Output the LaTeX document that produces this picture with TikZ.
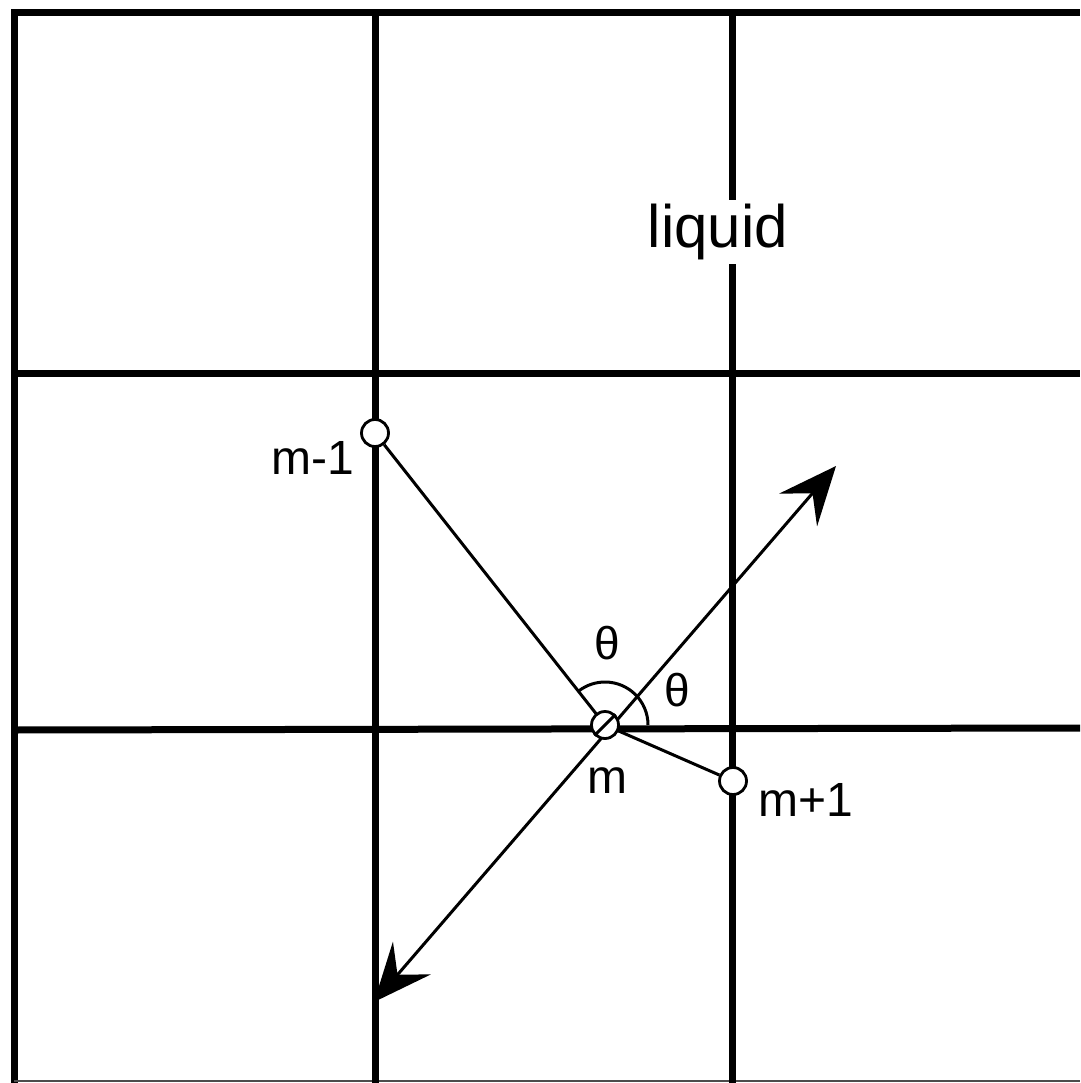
\documentclass[tikz,border=0pt]{standalone}
\usepackage{fontspec}
\setmainfont{Liberation Sans}
\usetikzlibrary{arrows.meta}
\begin{document}
\begin{tikzpicture}[x=1pt,y=-1pt,
  grid/.style={line width=7pt},
  thin/.style={line width=3pt},
  site/.style={circle,draw,fill=white,line width=2.8pt,minimum size=27pt,inner sep=0pt},
  lbl/.style={font=\fontsize{48}{48}\selectfont,inner sep=0pt},
  ang/.style={font=\fontsize{46}{46}\selectfont,inner sep=0pt},
  tip/.style={{Stealth[length=58pt,width=50pt,inset=22pt]}-{Stealth[length=58pt,width=50pt,inset=22pt]}}]
\useasboundingbox (0,0) rectangle (1080,1083);
\fill[white] (0,0) rectangle (1080,1083);
% grid
\draw[grid] (14,1083) -- (14,13) -- (1080,13);
\draw[line width=2pt,black!70] (14,1081) -- (1080,1081);
\draw[grid] (375,13) -- (375,1083);
\draw[grid] (732,13) -- (732,1083);
\draw[grid] (14,373) -- (1080,373);
\draw[grid] (14,730) -- (1080,728);
% liquid label
\node[font=\fontsize{60}{60}\selectfont,fill=white,inner sep=4pt] (liq) at (718,232) {liquid};
% sites
\coordinate (mc) at (605,725);
\coordinate (a1) at (374,1002);
\coordinate (a2) at (836,466);
\draw[thin,tip] (a1) -- (a2);
\node[site] (m1) at (375,433) {};
\node[site] (mp) at (733,781) {};
\draw[thin] (m1) -- (mc);
\draw[thin] (mc) -- (mp);
\draw[thin] (mc) ++(43,0) arc[start angle=0,end angle=-127,radius=43];
\node[site] (m) at (mc) {};
\draw[thin] (m.225) -- (m.45);
% labels
\node[lbl] (lm1) at (313,458) {m-1};
\node[lbl] (lm) at (607,781) {m};
\node[lbl] (lmp) at (806,800) {m+1};
\node[ang] (t1) at (607,643) {θ};
\node[ang] (t2) at (677,690) {θ};
\end{tikzpicture}
\end{document}
